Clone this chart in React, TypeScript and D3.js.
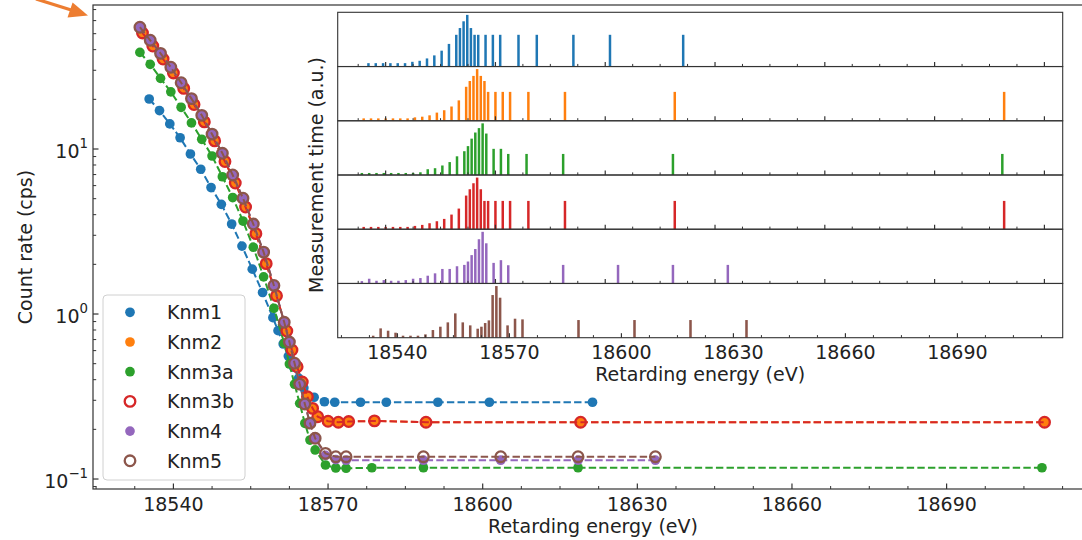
import React from 'react';
import * as d3 from 'd3';

// Retarding energies (eV) of the scan steps for each campaign
const knm1Energy = [18535.3, 18537.3, 18539.3, 18541.3, 18543.3, 18545.3, 18547.3, 18549.3, 18551.3, 18553.3, 18555.3, 18557.3, 18559.3, 18560.3, 18561.3, 18562.3, 18563.3, 18564.3, 18565.3, 18567.3, 18569.3, 18571.3, 18576.3, 18581.3, 18591.3, 18601.3, 18621.3];
const knm2Energy = [18534, 18536, 18538, 18540, 18542, 18544, 18546, 18548, 18550, 18552, 18554, 18556, 18558, 18560, 18562, 18563, 18564, 18565, 18566, 18567, 18568, 18570, 18572, 18574, 18579, 18589, 18619, 18709];
const knm3aEnergy = [18533.5, 18535.5, 18537.5, 18539.5, 18541.5, 18543.5, 18545.5, 18547.5, 18549.5, 18551.5, 18553.5, 18555.5, 18557.5, 18559.5, 18561.5, 18562.5, 18563.5, 18564.5, 18565.5, 18566.5, 18567.5, 18569.5, 18571.5, 18573.5, 18578.5, 18588.5, 18618.5, 18708.5];
const knm3bEnergy = [18534, 18536, 18538, 18540, 18542, 18544, 18546, 18548, 18550, 18552, 18554, 18556, 18558, 18560, 18562, 18563, 18564, 18565, 18566, 18567, 18568, 18570, 18572, 18574, 18579, 18589, 18619, 18709];
const knm4Energy = [18533.5, 18535.5, 18537.5, 18539.5, 18541.5, 18543.5, 18545.5, 18547.5, 18549.5, 18551.5, 18553.5, 18555.5, 18557.5, 18559.5, 18561.5, 18562.5, 18563.5, 18564.5, 18565.5, 18566.5, 18567.5, 18569.5, 18571.5, 18573.5, 18588.5, 18603.5, 18618.5, 18633.5];
const knm5Energy = [18533.5, 18535.5, 18537.5, 18539.5, 18541.5, 18543.5, 18545.5, 18547.5, 18549.5, 18551.5, 18553.5, 18555.5, 18557.5, 18559.5, 18561.5, 18562.5, 18563.5, 18564.5, 18565.5, 18566.5, 18567.5, 18569.5, 18571.5, 18573.5, 18588.5, 18603.5, 18618.5, 18633.5];

// Count rates (cps)
const knm1Rate = [20.1, 17.1, 14.2, 11.7, 9.33, 7.54, 5.84, 4.62, 3.51, 2.58, 1.87, 1.35, 0.95, 0.793, 0.658, 0.556, 0.477, 0.409, 0.356, 0.313, 0.294, 0.292, 0.292, 0.292, 0.292, 0.292, 0.292];
const knm2Rate = [50.5, 42.1, 35.1, 28.9, 23.3, 18.6, 14.6, 11.2, 8.4, 6.22, 4.45, 3.07, 2.02, 1.29, 0.789, 0.605, 0.479, 0.387, 0.315, 0.268, 0.2385, 0.224, 0.221, 0.223, 0.225, 0.221, 0.221, 0.221];
const knm3aRate = [38.5, 32.6, 26.8, 22.2, 17.9, 14.4, 11.45, 9.07, 6.79, 5.08, 3.66, 2.54, 1.68, 1.083, 0.665, 0.498, 0.3755, 0.2876, 0.2176, 0.1723, 0.15, 0.1216, 0.1166, 0.1162, 0.117, 0.117, 0.117, 0.117];
const knm3bRate = [50.5, 42.1, 35.1, 28.9, 23.3, 18.6, 14.6, 11.2, 8.4, 6.22, 4.45, 3.07, 2.02, 1.29, 0.789, 0.605, 0.479, 0.387, 0.315, 0.268, 0.2385, 0.224, 0.221, 0.223, 0.225, 0.221, 0.221, 0.221];
const knm4Rate = [54.7, 45.6, 38.0, 31.3, 25.2, 20.2, 16.0, 12.3, 9.42, 6.96, 5.03, 3.51, 2.37, 1.49, 0.891, 0.676, 0.503, 0.376, 0.285, 0.218, 0.1765, 0.139, 0.131, 0.13, 0.13, 0.13, 0.13, 0.13];
const knm5Rate = [54.7, 45.6, 38.0, 31.3, 25.2, 20.2, 16.0, 12.3, 9.42, 6.96, 5.03, 3.51, 2.37, 1.49, 0.891, 0.676, 0.503, 0.376, 0.285, 0.218, 0.1765, 0.143, 0.1365, 0.1365, 0.1365, 0.1365, 0.1365, 0.1365];

// Measurement time per scan step (a.u.)
const knm1Time = [10, 10, 10, 10, 10, 10, 14, 17, 24, 33, 47, 67, 94, 114, 134, 153, 114, 94, 94, 94, 94, 94, 94, 94, 94, 94, 94];
const knm2Time = [7, 7, 7, 7, 7, 7, 7, 10, 12, 16, 24, 31, 42, 60, 100, 117, 132, 152, 132, 117, 85, 85, 85, 85, 85, 85, 85, 85];
const knm3aTime = [6, 6, 6, 6, 6, 6, 6, 6, 8, 17, 20, 28, 38, 55, 70, 85, 107, 125, 138, 152, 122, 77, 77, 62, 62, 62, 62, 62];
const knm3bTime = [7, 7, 7, 7, 7, 7, 7, 10, 13, 18, 24, 31, 44, 62, 101, 120, 138, 155, 120, 85, 85, 85, 85, 85, 85, 85, 85, 85];
const knm4Time = [7, 14, 8, 10, 8, 8, 10, 14, 16, 23, 30, 43, 43, 51, 55, 65, 84, 102, 131, 153, 119, 61, 69, 54, 55, 55, 55, 55];
const knm5Time = [6, 28, 21, 15, 6, 6, 6, 10, 23, 33, 46, 73, 46, 37, 27, 33, 44, 52, 128, 155, 120, 37, 57, 55, 53, 53, 53, 53];

const campaigns = ['Knm1', 'Knm2', 'Knm3a', 'Knm3b', 'Knm4', 'Knm5'];
const xTickLabels = [18540, 18570, 18600, 18630, 18660, 18690];

const FONT = '"DejaVu Sans", Verdana, sans-serif';
const INK = '#222';

type Series = {
  name: string;
  energy: number[];
  rate: number[];
  time: number[];
  color: string;
  open: boolean;
};

const series: Series[] = [
  { name: campaigns[0], energy: knm1Energy, rate: knm1Rate, time: knm1Time, color: '#1f77b4', open: false },
  { name: campaigns[1], energy: knm2Energy, rate: knm2Rate, time: knm2Time, color: '#ff7f0e', open: false },
  { name: campaigns[2], energy: knm3aEnergy, rate: knm3aRate, time: knm3aTime, color: '#2ca02c', open: false },
  { name: campaigns[3], energy: knm3bEnergy, rate: knm3bRate, time: knm3bTime, color: '#d62728', open: true },
  { name: campaigns[4], energy: knm4Energy, rate: knm4Rate, time: knm4Time, color: '#9467bd', open: false },
  { name: campaigns[5], energy: knm5Energy, rate: knm5Rate, time: knm5Time, color: '#8c564b', open: true },
];

function Marker({ cx, cy, color, open }: { cx: number; cy: number; color: string; open: boolean }) {
  return open ? (
    <circle cx={cx} cy={cy} r={5.3} fill="none" stroke={color} strokeWidth={2.3} />
  ) : (
    <circle cx={cx} cy={cy} r={4.85} fill={color} />
  );
}

export default function App() {
  // main axes
  const mL = 93, mR = 1093, mT = 5, mB = 489;
  const x = d3.scaleLinear().domain([18524.4, 18718.4]).range([mL, mR]);
  const y = d3.scaleLog().domain([0.087, 74.6]).range([mB, mT]);

  const xMajor = xTickLabels.filter((v) => v >= x.domain()[0] && v <= x.domain()[1]);
  const xMinor = d3.range(18525, 18718.4, 7.5).filter((v) => Math.abs(((v - 18540) % 30 + 30) % 30) > 1e-6);
  const yMajor = [0.1, 1, 10];
  const yMinor: number[] = [];
  [0.01, 0.1, 1, 10].forEach((d) => {
    for (let k = 2; k <= 9; k++) {
      const v = k * d;
      if (v >= y.domain()[0] && v <= y.domain()[1]) yMinor.push(v);
    }
  });
  const expo = (v: number) => {
    const e = Math.round(Math.log10(v));
    return e < 0 ? '\u2212' + Math.abs(e) : String(e);
  };

  const line = d3.line<[number, number]>().x((d) => d[0]).y((d) => d[1]);

  // inset axes
  const iL = 337.7, iR = 1062.7, iT = 12.3, iB = 337.7;
  const pH = (iB - iT) / series.length;
  const xUpper = d3.scaleLinear().domain([18526.9, 18725.0]).range([iL, iR]);
  const xLower = d3.scaleLinear().domain([18524.0, 18718.2]).range([iL, iR]);
  const barW = 0.68;

  // legend
  const lgX = 103, lgY = 295, lgW = 142, lgH = 185;
  const lgRow = 29.7;

  return (
    <svg
      width={1082}
      height={540}
      style={{ position: 'absolute', left: 0, top: 0, background: '#fff' }}
      fontFamily={FONT}
    >
      <rect x={0} y={0} width={1082} height={540} fill="#fff" />

      {/* main data: dashed guide lines with markers */}
      {series.map((s) => {
        const pts = s.energy.map((e, i) => [x(e), y(s.rate[i])] as [number, number]);
        return (
          <g key={s.name}>
            <path d={line(pts) || ''} fill="none" stroke={s.color} strokeWidth={2} strokeDasharray="7.4,3.2" />
            {pts.map((p, i) => (
              <Marker key={i} cx={p[0]} cy={p[1]} color={s.color} open={s.open} />
            ))}
          </g>
        );
      })}

      {/* main frame */}
      <rect x={mL} y={mT} width={mR - mL} height={mB - mT} fill="none" stroke="#333" strokeWidth={1.2} />

      {/* main x ticks (inward) */}
      {xMinor.map((v) => (
        <line key={'xm' + v} x1={x(v)} x2={x(v)} y1={mB} y2={mB - 3} stroke="#333" strokeWidth={1} />
      ))}
      {xMajor.map((v) => (
        <g key={'xM' + v}>
          <line x1={x(v)} x2={x(v)} y1={mB} y2={mB - 5.5} stroke="#333" strokeWidth={1.2} />
          <text x={x(v)} y={511} textAnchor="middle" fontSize={19} fill={INK}>
            {v}
          </text>
        </g>
      ))}

      {/* main y ticks (inward, log) */}
      {yMinor.map((v) => (
        <line key={'ym' + v} x1={mL} x2={mL + 3.2} y1={y(v)} y2={y(v)} stroke="#333" strokeWidth={1} />
      ))}
      {yMajor.map((v) => (
        <g key={'yM' + v}>
          <line x1={mL} x2={mL + 5.5} y1={y(v)} y2={y(v)} stroke="#333" strokeWidth={1.2} />
          <text x={88} y={y(v) + 8.5} textAnchor="end" fontSize={19} fill={INK}>
            10
            <tspan dy={-9.5} fontSize={13.3}>
              {expo(v)}
            </tspan>
          </text>
        </g>
      ))}

      <text x={(mL + mR) / 2} y={533} textAnchor="middle" fontSize={19} fill={INK}>
        Retarding energy (eV)
      </text>
      <text transform={`translate(32, ${(mT + mB) / 2}) rotate(-90)`} textAnchor="middle" fontSize={19} fill={INK}>
        Count rate (cps)
      </text>

      {/* legend */}
      <rect x={lgX} y={lgY} width={lgW} height={lgH} rx={4} fill="#fff" fillOpacity={0.8} stroke="#d0d0d0" strokeWidth={1} />
      {series.map((s, i) => {
        const cy = lgY + 17.3 + i * lgRow;
        return (
          <g key={'lg' + s.name}>
            <Marker cx={130} cy={cy} color={s.color} open={s.open} />
            <text x={167} y={cy + 7} fontSize={19} fill={INK}>
              {s.name}
            </text>
          </g>
        );
      })}

      {/* inset: measurement time distributions */}
      <rect x={iL} y={iT} width={iR - iL} height={iB - iT} fill="#fff" />
      {series.map((s, i) => {
        const top = iT + i * pH;
        const bottom = top + pH;
        const xs = i === series.length - 1 ? xLower : xUpper;
        const ys = d3.scaleLinear().domain([0, (d3.max(s.time) || 1) * 1.05]).range([bottom, top]);
        const w = xs(s.energy[0] + barW) - xs(s.energy[0]);
        const maj = d3.range(18540, xs.domain()[1] + 0.01, 30);
        const min = d3.range(18525, xs.domain()[1] + 0.01, 7.5).filter((v) => Math.abs(((v - 18540) % 30 + 30) % 30) > 1e-6 && v >= xs.domain()[0]);
        return (
          <g key={'panel' + s.name}>
            {s.energy.map((e, j) => (
              <rect key={j} x={xs(e) - w / 2} y={ys(s.time[j])} width={w} height={bottom - ys(s.time[j])} fill={s.color} />
            ))}
            {min.map((v) => (
              <line key={'m' + v} x1={xs(v)} x2={xs(v)} y1={bottom} y2={bottom - 2.6} stroke="#333" strokeWidth={1} />
            ))}
            {maj.map((v) => (
              <line key={'M' + v} x1={xs(v)} x2={xs(v)} y1={bottom} y2={bottom - 4.5} stroke="#333" strokeWidth={1.2} />
            ))}
            <rect x={iL} y={top} width={iR - iL} height={pH} fill="none" stroke="#333" strokeWidth={1.1} />
          </g>
        );
      })}
      {xTickLabels.map((v) => (
        <text key={'il' + v} x={xLower(v)} y={358.5} textAnchor="middle" fontSize={19} fill={INK}>
          {v}
        </text>
      ))}
      <text x={(iL + iR) / 2} y={380.5} textAnchor="middle" fontSize={19} fill={INK}>
        Retarding energy (eV)
      </text>
      <text transform={`translate(323, ${(iT + iB) / 2}) rotate(-90)`} textAnchor="middle" fontSize={19} fill={INK}>
        Measurement time (a.u.)
      </text>

      {/* pointer arrow at the top-left corner */}
      <line x1={36} y1={-1} x2={72} y2={10.3} stroke="#ed7d31" strokeWidth={3.2} />
      <polygon points="88,15.5 67.5,17.6 72.6,2.6" fill="#ed7d31" />
    </svg>
  );
}
